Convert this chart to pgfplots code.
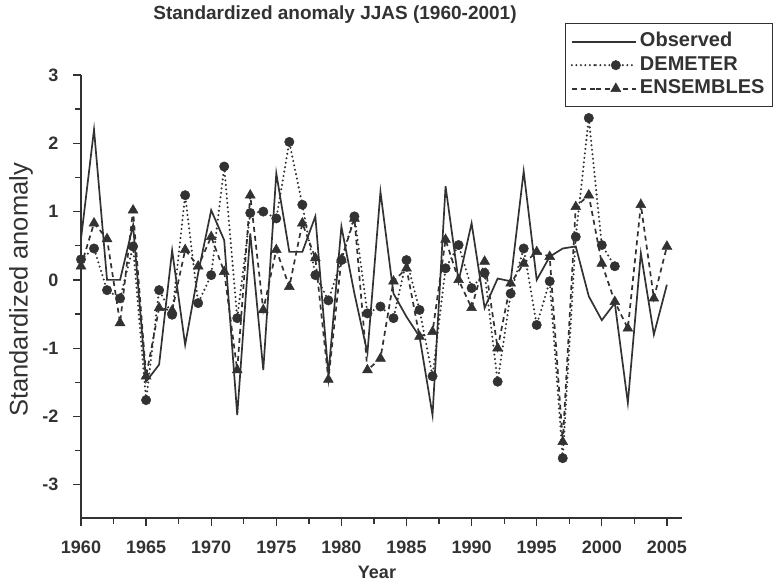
\documentclass[border=0pt]{standalone}
\usepackage{fontspec}
\setmainfont{Liberation Sans}
\usepackage{pgfplots}
\usepackage{pgfplotstable}
\pgfplotsset{compat=1.18}
\definecolor{ink}{RGB}{50,50,50}

\pgfplotstableread{
year obs
1960 0.60
1961 2.20
1962 0.00
1963 0.00
1964 0.80
1965 -1.49
1966 -1.24
1967 0.43
1968 -0.95
1969 0.10
1970 1.02
1971 0.58
1972 -1.98
1973 0.68
1974 -1.32
1975 1.56
1976 0.41
1977 0.41
1978 0.93
1979 -1.39
1980 0.78
1981 -0.20
1982 -1.07
1983 1.29
1984 -0.20
1985 -0.54
1986 -0.83
1987 -1.98
1988 1.37
1989 -0.02
1990 0.83
1991 -0.41
1992 0.02
1993 -0.02
1994 1.59
1995 0.00
1996 0.34
1997 0.46
1998 0.49
1999 -0.24
2000 -0.59
2001 -0.34
2002 -1.80
2003 0.39
2004 -0.80
2005 -0.07
}\obsdata

\pgfplotstableread{
year dem
1960 0.30
1961 0.46
1962 -0.15
1963 -0.27
1964 0.49
1965 -1.76
1966 -0.15
1967 -0.51
1968 1.24
1969 -0.34
1970 0.07
1971 1.66
1972 -0.56
1973 0.98
1974 1.00
1975 0.90
1976 2.02
1977 1.10
1978 0.07
1979 -0.30
1980 0.29
1981 0.93
1982 -0.49
1983 -0.39
1984 -0.56
1985 0.29
1986 -0.44
1987 -1.41
1988 0.17
1989 0.51
1990 -0.12
1991 0.10
1992 -1.49
1993 -0.20
1994 0.46
1995 -0.66
1996 -0.02
1997 -2.61
1998 0.63
1999 2.37
2000 0.51
2001 0.20
}\demdata

\pgfplotstableread{
year ens
1960 0.20
1961 0.83
1962 0.60
1963 -0.63
1964 1.02
1965 -1.41
1966 -0.41
1967 -0.45
1968 0.44
1969 0.20
1970 0.63
1971 0.12
1972 -1.32
1973 1.24
1974 -0.44
1975 0.44
1976 -0.10
1977 0.83
1978 0.32
1979 -1.46
1980 0.30
1981 0.90
1982 -1.32
1983 -1.15
1984 -0.02
1985 0.17
1986 -0.83
1987 -0.76
1988 0.59
1989 0.00
1990 -0.41
1991 0.27
1992 -1.00
1993 -0.05
1994 0.24
1995 0.41
1996 0.34
1997 -2.37
1998 1.07
1999 1.24
2000 0.24
2001 -0.32
2002 -0.71
2003 1.10
2004 -0.27
2005 0.49
}\ensdata

\begin{document}
\begin{tikzpicture}[x=1pt,y=1pt]
\useasboundingbox (0pt,0pt) rectangle (780pt,585pt);
\begin{axis}[
  at={(81pt,67pt)}, anchor=south west,
  scale only axis, width=601pt, height=443pt,
  xmin=1960, xmax=2006.16, ymin=-3.486, ymax=3,
  axis lines*=left,
  axis line style={ink, line width=1.6pt},
  tick align=outside,
  tick style={ink, line width=1.3pt},
  major tick length=8pt, minor tick length=6pt,
  xtick={1960,1965,...,2005},
  ytick={-3,-2,-1,0,1,2,3},
  minor x tick num=1, minor y tick num=1,
  /pgf/number format/1000 sep={},
  /pgf/number format/assume math mode=true,
  ticklabel style={font=\fontsize{18}{20}\selectfont\bfseries, text=ink},
  xticklabel style={yshift=-11pt},
  yticklabel style={xshift=-11pt},
  xlabel={Year},
  every axis x label/.style={at={(axis description cs:0.4925,-0.122)}, anchor=center},
  xlabel style={font=\fontsize{18}{22}\selectfont\bfseries, text=ink},
  ylabel={Standardized anomaly},
  every axis y label/.style={at={(axis description cs:-0.0998,0.515)}, rotate=90, anchor=center},
  ylabel style={font=\fontsize{25.5}{28}\selectfont, text=ink},
  clip=false,
  legend cell align=left,
  legend style={at={(0.8053,1.1174)}, anchor=north west, draw=ink, line width=1.4pt,
    font=\fontsize{20}{22}\selectfont\bfseries, text=ink, inner xsep=5pt, inner ysep=8pt,
    row sep=3.5pt,
    nodes={inner ysep=1pt, inner xsep=3pt, text height=14pt, text depth=4pt},
    /tikz/every even column/.append style={column sep=2pt}},
  legend image code/.code={
    \path (0pt,0pt) -- (24pt,0pt);
    \draw[mark repeat=2, mark phase=2, #1]
      plot coordinates {(24pt,0pt) (44pt,0pt) (64pt,0pt)};
  },
]
\addplot[ink, line width=1.7pt, mark=none] table[x=year, y=obs] {\obsdata};
\addlegendentry{Observed}
\addplot[ink, line width=2.3pt, line cap=round, dash pattern=on 0pt off 4.5pt,
  mark=*, mark size=4.7pt, mark options={solid, fill=ink, draw=ink, line width=0.5pt}]
  table[x=year, y=dem] {\demdata};
\addlegendentry{DEMETER}
\addplot[ink, line width=1.7pt, dash pattern=on 5pt off 4pt,
  mark=triangle*, mark size=5.7pt, mark options={solid, fill=ink, draw=ink, line width=0.5pt}]
  table[x=year, y=ens] {\ensdata};
\addlegendentry{ENSEMBLES}
\end{axis}
\node[font=\fontsize{19}{22}\selectfont\bfseries, text=ink] at (335pt,570pt) {Standardized anomaly JJAS (1960-2001)};
\end{tikzpicture}
\end{document}
